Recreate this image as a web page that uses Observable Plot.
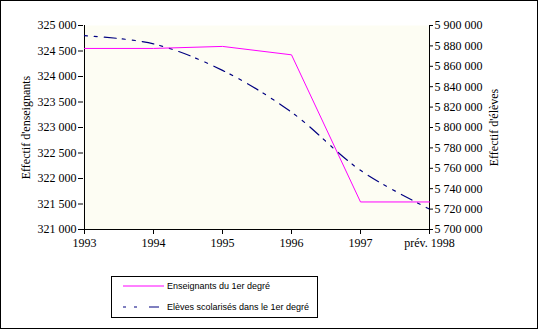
<!DOCTYPE html>
<html><head><meta charset="utf-8">
<script src="https://cdn.jsdelivr.net/npm/d3@7"></script>
<script src="https://cdn.jsdelivr.net/npm/@observablehq/plot@0.6"></script>
<style>
body{margin:0;background:#fff;}
#wrap{position:relative;width:538px;height:329px;overflow:hidden;background:#fff;}
#border{position:absolute;left:0;top:0;width:538px;height:329px;box-sizing:border-box;border:1px solid #000;pointer-events:none;}
#chart{position:absolute;left:0;top:0;}
#chart svg, #chart svg text{font-family:"Liberation Serif","Times New Roman",serif !important;}
#legend{position:absolute;left:111px;top:276px;width:207px;height:42px;box-sizing:border-box;border:1px solid #000;background:#fff;font-family:"Liberation Sans",Arial,sans-serif;font-size:9px;color:#000;}
.item{position:absolute;left:11px;height:12px;display:flex;align-items:center;white-space:nowrap;}
.item svg{margin-right:3px;flex:none;}
</style></head>
<body><div id="wrap"><div id="chart"></div>
<div id="legend">
 <div class="item" style="top:3px"><svg width="41" height="4"><line x1="0" x2="41" y1="2" y2="2" stroke="#ff00ff" stroke-width="1"/></svg>Enseignants du 1er degré</div>
 <div class="item" style="top:24px"><svg width="41" height="4"><line x1="0" x2="41" y1="2" y2="2" stroke="#000080" stroke-width="1.2" stroke-dasharray="3,8,3,12,10,5"/></svg>Elèves scolarisés dans le 1er degré</div>
</div>
<div id="border"></div></div>
<script>
const years = ["1993","1994","1995","1996","1997","prév. 1998"];
const enseignants = [324550, 324550, 324590, 324425, 321540, 321540];
const eleves = [5890000, 5882000, 5856000, 5815000, 5758000, 5720000];
const leftTicks = [321000,321500,322000,322500,323000,323500,324000,324500,325000];
const rightTicks = [5700000,5720000,5740000,5760000,5780000,5800000,5820000,5840000,5860000,5880000,5900000];

const L0 = 321000, L1 = 325000, R0 = 5700000, R1 = 5900000;
const toLeft = v => L0 + (v - R0) / (R1 - R0) * (L1 - L0);
const toRight = v => R0 + (v - L0) / (L1 - L0) * (R1 - R0);
const fmt = v => d3.format(",")(Math.round(v)).replace(/,/g, " ");

const ens = years.map((y,i) => ({year:y, v:enseignants[i]}));
const elv = years.map((y,i) => ({year:y, v:toLeft(eleves[i])}));

const serif = "Liberation Serif";
const fs = 12;
const chart = Plot.plot({
  width: 538, height: 260,
  marginLeft: 83, marginRight: 109, marginTop: 25, marginBottom: 31,
  style: {fontSize: "12px", color: "#000", background: "transparent", overflow: "visible"},
  x: {type: "point", domain: years, padding: 0},
  y: {domain: [L0, L1]},
  marks: [
    Plot.frame({fill: "#fdfdf3", stroke: null}),
    Plot.axisX({tickSize: 5, tickPadding: 4, label: null, fontSize: fs, fontFamily: serif}),
    Plot.axisY({anchor: "left", ticks: leftTicks, tickFormat: fmt, tickSize: 5, tickPadding: 2, fontSize: fs, fontFamily: serif, label: "Effectif d'enseignants", labelAnchor: "center", labelOffset: 62, labelArrow: "none"}),
    Plot.axisY({anchor: "right", ticks: rightTicks.map(toLeft), tickFormat: d => fmt(toRight(d)), tickSize: 3, tickPadding: 2, fontSize: fs, fontFamily: serif, label: "Effectif d'élèves", labelAnchor: "center", labelOffset: 68, labelArrow: "none"}),
    Plot.ruleY([L0], {stroke: "#000"}),
    Plot.ruleX([years[0], years[years.length-1]], {stroke: "#000"}),
    Plot.line(elv, {x: "year", y: "v", stroke: "#000080", strokeWidth: 1.2, strokeDasharray: "3,7,3,7,12,6", curve: "catmull-rom"}),
    Plot.line(ens, {x: "year", y: "v", stroke: "#ff00ff", strokeWidth: 1})
  ]
});
document.getElementById("chart").appendChild(chart);
</script></body></html>
